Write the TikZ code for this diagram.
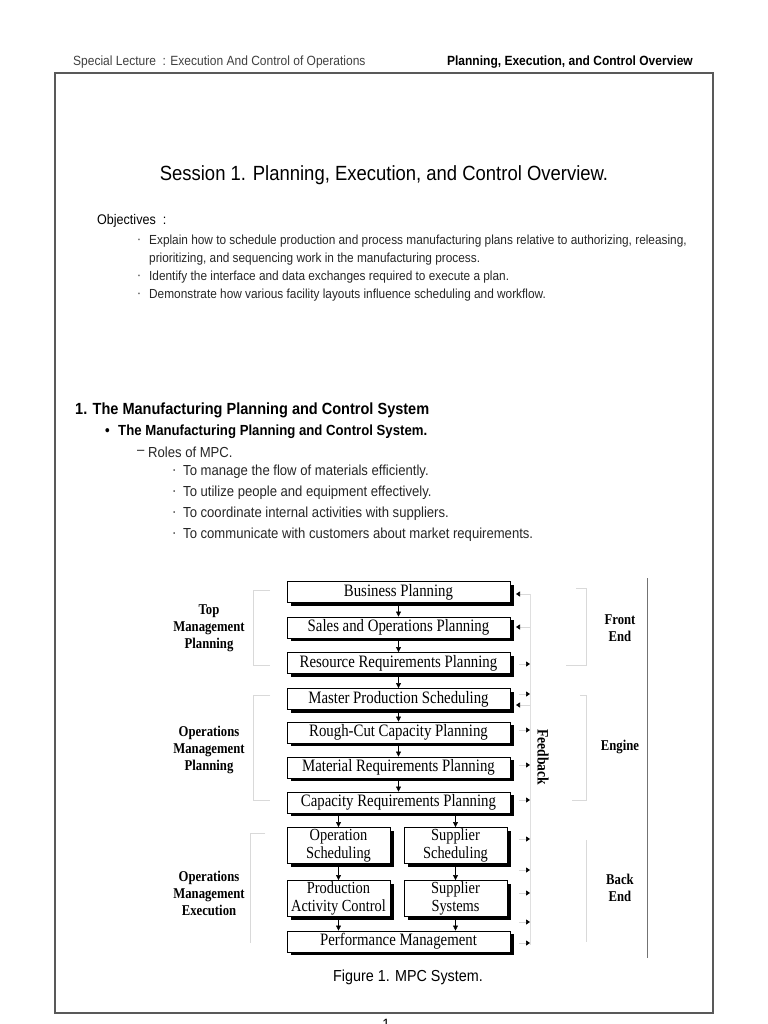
\documentclass[tikz,border=0pt]{standalone}
\usepackage{fontspec}
\setmainfont{Liberation Sans}[FakeStretch=0.9]
\newfontfamily\boxfont{Liberation Serif}[FakeStretch=0.85]
\usetikzlibrary{arrows.meta,shadows}

\tikzset{
  txt/.style={anchor=west, inner sep=0pt},
  objline/.style={txt, text=black!85, font=\fontsize{13.2}{15}\selectfont},
  roleline/.style={txt, text=black!85, font=\fontsize{14.6}{17}\selectfont},
  mpcbox/.style={draw, fill=white, line width=0.9pt, minimum width=223bp,
    minimum height=21bp, inner sep=0pt, font=\boxfont\fontsize{17.5}{18}\selectfont,
    drop shadow={shadow xshift=4bp, shadow yshift=-3bp, fill=black, opacity=1}},
  halfbox/.style={mpcbox, minimum width=103bp, minimum height=36bp, align=center,
    font=\boxfont\fontsize{17}{17.5}\selectfont},
  grouplbl/.style={align=center, inner sep=0pt, font=\boxfont\bfseries\fontsize{15}{17}\selectfont},
  flow/.style={-{Triangle[width=5bp,length=5bp]}, line width=0.6pt},
  fbmark/.style={gray!30, line width=0.6pt, -{Triangle[width=5bp,length=4bp,color=black]}},
  grpline/.style={gray!30, line width=0.8pt}
}

\begin{document}
\begin{tikzpicture}[x=1bp, y=-1bp]
    \useasboundingbox (0,0) rectangle (768,1024);

    % Header and page frame
    \node[txt, text=black!75, font=\fontsize{13.4}{15}\selectfont] (hleft) at (73,62)
        {Special Lecture\enspace: Execution And Control of Operations};
    \node[anchor=east, inner sep=0pt, font=\bfseries\fontsize{13.4}{15}\selectfont] (hright) at (693,62)
        {Planning, Execution, and Control Overview};
    \draw[black!65, line width=1.4pt] (55,73) rectangle (713,1013);

    % Title and objectives
    \node[font=\fontsize{20.6}{24}\selectfont] (title) at (384,175)
        {Session 1. Planning, Execution, and Control Overview.};
    \node[txt, font=\fontsize{14}{16}\selectfont] (obj) at (97,221) {Objectives\enspace:};
    \foreach \y in {241,277,295}
        \node[objline] (odot\y) at (137,\y) {·};
    \node[objline] (obj1) at (149,241)
        {Explain how to schedule production and process manufacturing plans relative to authorizing, releasing,};
    \node[objline] (obj1b) at (149,259)
        {prioritizing, and sequencing work in the manufacturing process.};
    \node[objline] (obj2) at (149,277) {Identify the interface and data exchanges required to execute a plan.};
    \node[objline] (obj3) at (149,295) {Demonstrate how various facility layouts influence scheduling and workflow.};

    % Section 1
    \node[txt, font=\bfseries\fontsize{16.2}{19}\selectfont] (sec) at (75,410)
        {1. The Manufacturing Planning and Control System};
    \node[txt, font=\bfseries\fontsize{14.7}{17}\selectfont] (subdot) at (105,432) {•};
    \node[txt, font=\bfseries\fontsize{14.7}{17}\selectfont] (sub) at (118,432)
        {The Manufacturing Planning and Control System.};
    \node[roleline] (dash) at (137,452) {–};
    \node[roleline] (roles) at (148,452) {Roles of MPC.};
    \foreach \y in {472,493,514,535}
        \node[roleline] (rdot\y) at (172,\y) {·};
    \node[roleline] (role1) at (183,472) {To manage the flow of materials efficiently.};
    \node[roleline] (role2) at (183,493) {To utilize people and equipment effectively.};
    \node[roleline] (role3) at (183,514) {To coordinate internal activities with suppliers.};
    \node[roleline] (role4) at (183,535) {To communicate with customers about market requirements.};

    % Group brackets
    \draw[grpline] (270,590) -- (253,590) -- (253,665) -- (270,665);
    \draw[grpline] (270,695) -- (253,695) -- (253,800) -- (270,800);
    \draw[grpline] (265,833) -- (250,833) -- (250,943);
    \draw[grpline] (576,588) -- (586,588) -- (586,665) -- (566,665);
    \draw[grpline] (580,695) -- (586,695) -- (586,800) -- (572,800);
    \draw[grpline] (586,840) -- (586,942);
    \draw[black!55, line width=0.8pt] (647,578) -- (647,958);

    % MPC boxes
    \node[mpcbox] (bp)   at (398.5,592)   {Business Planning};
    \node[mpcbox] (sop)  at (398.5,627.5) {Sales and Operations Planning};
    \node[mpcbox] (rrp)  at (398.5,663)   {Resource Requirements Planning};
    \node[mpcbox] (mps)  at (398.5,699)   {Master Production Scheduling};
    \node[mpcbox] (rccp) at (398.5,732.5) {Rough-Cut Capacity Planning};
    \node[mpcbox] (mrp)  at (398.5,767.5) {Material Requirements Planning};
    \node[mpcbox] (crp)  at (398.5,802.5) {Capacity Requirements Planning};
    \node[halfbox] (os)  at (338.5,845.5) {Operation\\Scheduling};
    \node[halfbox] (ss)  at (455.5,845.5) {Supplier\\Scheduling};
    \node[halfbox] (pac) at (338.5,898.5) {Production\\Activity Control};
    \node[halfbox] (sys) at (455.5,898.5) {Supplier\\Systems};
    \node[mpcbox] (pm)   at (398.5,941.5) {Performance Management};

    % Downward flow
    \draw[flow] (bp) -- (sop);
    \draw[flow] (sop) -- (rrp);
    \draw[flow] (rrp) -- (mps);
    \draw[flow] (mps) -- (rccp);
    \draw[flow] (rccp) -- (mrp);
    \draw[flow] (mrp) -- (crp);
    \draw[flow] (crp.south -| os.north) -- (os.north);
    \draw[flow] (crp.south -| ss.north) -- (ss.north);
    \draw[flow] (os) -- (pac);
    \draw[flow] (ss) -- (sys);
    \draw[flow] (pac.south) -- (pac.south |- pm.north);
    \draw[flow] (sys.south) -- (sys.south |- pm.north);

    % Feedback loop
    \draw[gray!25, line width=0.6pt] (530,594) -- (530,945);
    \foreach \y in {594,627,705}
        \draw[fbmark] (530,\y) -- (516,\y);
    \foreach \y in {664,694,730,765,800,839,870,893,922,943}
        \draw[fbmark] (519,\y) -- (530,\y);
    \node[grouplbl, rotate=-90, font=\boxfont\bfseries\fontsize{16}{17}\selectfont] (fb) at (543,757) {Feedback};

    % Group labels
    \node[grouplbl] (top) at (209,628) {Top\\Management\\Planning};
    \node[grouplbl] (omp) at (209,750) {Operations\\Management\\Planning};
    \node[grouplbl] (ome) at (209,893) {Operations\\Management\\Execution};
    \node[grouplbl] (front)  at (620,628) {Front\\End};
    \node[grouplbl] (engine) at (620,747) {Engine};
    \node[grouplbl] (back)   at (620,888) {Back\\End};

    % Caption and page number
    \node[font=\fontsize{16}{19}\selectfont] (cap) at (408,977) {Figure 1. MPC System.};
    \node[anchor=north, inner sep=0pt, font=\fontsize{15}{18}\selectfont] (pnum) at (386,1019) {1};

\end{tikzpicture}
\end{document}
